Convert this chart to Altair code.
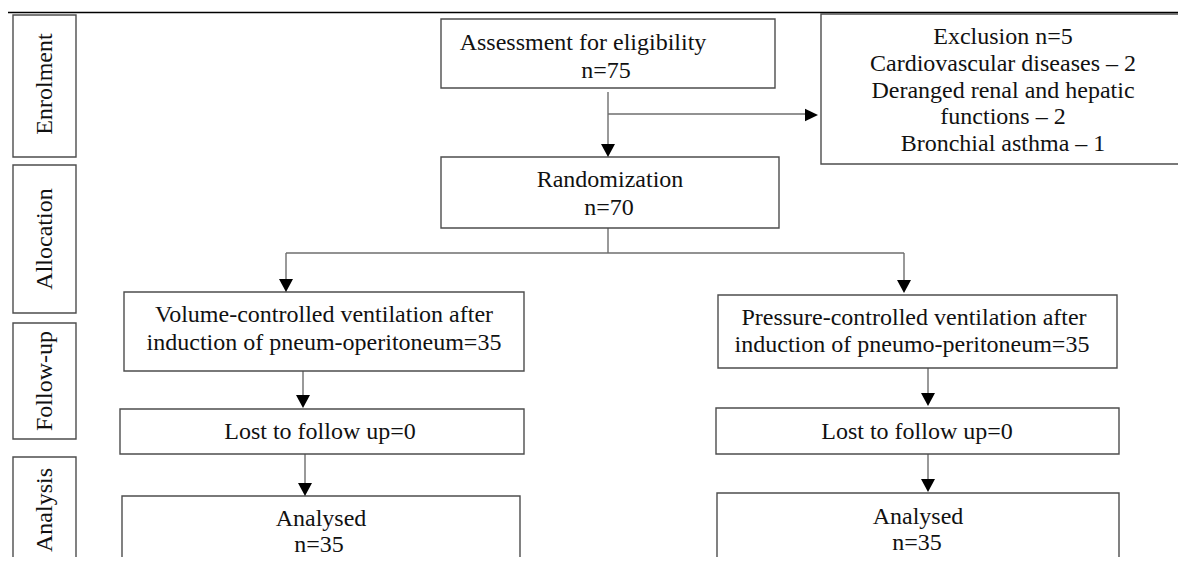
import altair as alt
import pandas as pd

# ---------------- data (page-pixel layout of the CONSORT flow diagram) ----------------
box_names = ["Enrolment", "Allocation", "Follow-up", "Analysis",
             "Assessment", "Exclusion", "Randomization",
             "VCV", "PCV", "Lost L", "Lost R", "Analysed L", "Analysed R"]
box_x0 = [13, 13, 13, 13, 441, 821, 441, 124, 718, 120, 716, 122, 717]
box_x1 = [76, 76, 76, 76, 775, 1183, 779, 524, 1117, 524, 1119, 520, 1119]
box_y0 = [15, 165, 323, 457, 19, 14, 157, 292, 295, 409, 408, 496, 493]
box_y1 = [157, 313, 439, 575, 88, 164, 228, 371, 368, 454, 454, 563, 563]

side_labels = ["Enrolment", "Allocation", "Follow-up", "Analysis"]
side_x = [45, 45, 45, 45]
side_y = [84, 239, 381, 510]

text_lines = ["Assessment for eligibility", "n=75",
              "Exclusion n=5", "Cardiovascular diseases \u2013 2",
              "Deranged renal and hepatic", "functions \u2013 2",
              "Bronchial asthma \u2013 1",
              "Randomization", "n=70",
              "Volume-controlled ventilation after",
              "induction of pneum-operitoneum=35",
              "Pressure-controlled ventilation after",
              "induction of pneumo-peritoneum=35",
              "Lost to follow up=0", "Lost to follow up=0",
              "Analysed", "n=35", "Analysed", "n=35"]
text_x = [583, 606, 1003, 1003, 1003, 1003, 1003, 610, 609,
          324, 324, 914, 912, 320, 917, 321, 319, 918, 917]
text_y = [43, 71, 37, 64, 91, 117, 144, 180, 208,
          315, 343, 318, 345, 432, 432, 519, 545, 517, 543]

seg_x1 = [608, 608, 608, 286, 286, 904, 303, 305, 928, 928]
seg_y1 = [92, 114, 228, 253, 253, 253, 371, 454, 368, 454]
seg_x2 = [608, 806, 608, 904, 286, 904, 303, 305, 928, 928]
seg_y2 = [146, 114, 253, 253, 282, 283, 398, 486, 396, 482]

arrow_tip_x = [608, 818, 286, 904, 303, 305, 928, 928]
arrow_tip_y = [157, 115, 292, 293, 408, 496, 406, 492]
arrow_dir = ["down", "right", "down", "down", "down", "down", "down", "down"]

frame_x1 = [7, 7]
frame_y1 = [12.5, 12.5]
frame_x2 = [1186, 7]
frame_y2 = [12.5, 575]

# ---------------- chart ----------------
W, H = 1170, 549
FONT = "Times New Roman"
FS = 24
xs = alt.Scale(domain=[8, 8 + W], nice=False, zero=False)
ys = alt.Scale(domain=[8, 8 + H], nice=False, zero=False, reverse=True)

boxes = pd.DataFrame({"name": box_names, "x0": box_x0, "x1": box_x1,
                      "y0": box_y0, "y1": box_y1})
sides = pd.DataFrame({"t": side_labels, "x": side_x, "y": side_y})
texts = pd.DataFrame({"t": text_lines, "x": text_x, "y": text_y})
segs = pd.DataFrame({"x": seg_x1, "y": seg_y1, "x2": seg_x2, "y2": seg_y2})
frame = pd.DataFrame({"x": frame_x1, "y": frame_y1, "x2": frame_x2, "y2": frame_y2})

HL = 6.5  # half length of arrowhead along its direction
arr = pd.DataFrame({"tx": arrow_tip_x, "ty": arrow_tip_y, "d": arrow_dir})
arr["cx"] = [x - HL if d == "right" else x for x, d in zip(arr.tx, arr.d)]
arr["cy"] = [y - HL if d == "down" else y for y, d in zip(arr.ty, arr.d)]

X = lambda f: alt.X(f, type="quantitative", scale=xs, axis=None)
Y = lambda f: alt.Y(f, type="quantitative", scale=ys, axis=None)

frame_layer = alt.Chart(frame).mark_rule(color="#000000", strokeWidth=1.6).encode(
    x=X("x"), y=Y("y"), x2="x2", y2="y2")

rect_layer = alt.Chart(boxes).mark_rect(
    fill="white", stroke="#4d4d4d", strokeWidth=1.4).encode(
    x=X("x0"), x2="x1", y=Y("y0"), y2="y1")

seg_layer = alt.Chart(segs).mark_rule(color="#6e6e6e", strokeWidth=1.4).encode(
    x=X("x"), y=Y("y"), x2="x2", y2="y2")

down_path = "M -1 -0.93 L 1 -0.93 L 0 0.93 Z"
right_path = "M -0.93 -0.9 L 0.93 0 L -0.93 0.9 Z"
arrow_down = alt.Chart(arr[arr.d == "down"]).mark_point(
    shape=down_path, size=196, filled=True, color="#000000", opacity=1).encode(
    x=X("cx"), y=Y("cy"))
arrow_right = alt.Chart(arr[arr.d == "right"]).mark_point(
    shape=right_path, size=196, filled=True, color="#000000", opacity=1).encode(
    x=X("cx"), y=Y("cy"))

text_layer = alt.Chart(texts).mark_text(
    font=FONT, fontSize=FS, color="#111111", align="center", baseline="middle").encode(
    x=X("x"), y=Y("y"), text="t:N")

side_layer = alt.Chart(sides).mark_text(
    font=FONT, fontSize=FS, color="#111111", align="center", baseline="middle",
    angle=270).encode(x=X("x"), y=Y("y"), text="t:N")

chart = alt.layer(frame_layer, seg_layer, rect_layer, arrow_down, arrow_right,
                  text_layer, side_layer).properties(
    width=W, height=H, padding=0, autosize=alt.AutoSizeParams(type="none"),
    background="white"
).configure_view(stroke=None)

chart.save("out.html", embed_options={"renderer": "svg", "actions": False})
